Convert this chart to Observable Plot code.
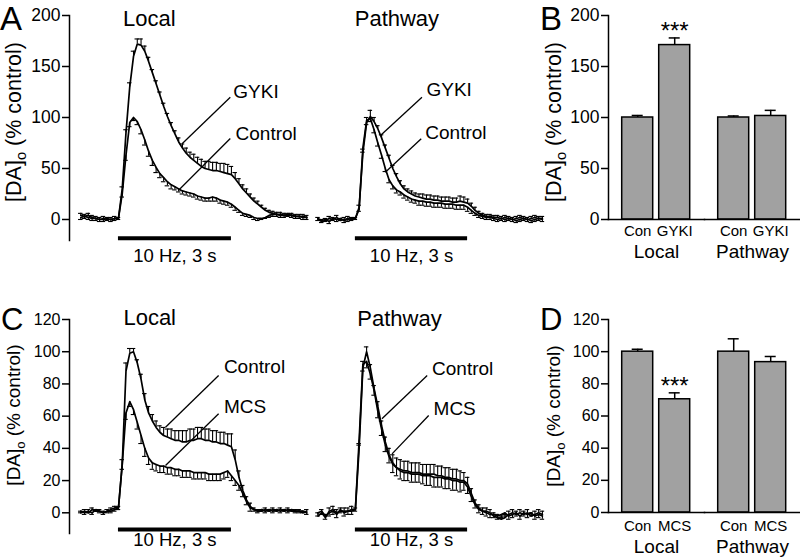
<!DOCTYPE html>
<html><head><meta charset="utf-8">
<script src="https://cdn.jsdelivr.net/npm/d3@7"></script>
<script src="https://cdn.jsdelivr.net/npm/@observablehq/plot@0.6"></script>
<style>
body{margin:0;background:#fff;}
#fig{position:relative;width:800px;height:558px;overflow:hidden;background:#fff;}
.pn{position:absolute;}
#overlay{position:absolute;left:0;top:0;pointer-events:none;}
</style></head><body><div id="fig"></div>
<script>
// sampling grid: -1.0 s .. 5.0 s, 0.1 s steps (stimulus starts at 0 s)
const times = d3.range(-10, 51).map(i => i / 10);

// Panel A, Local
const aLocalGYKI = [4,3,4,2,1,0,1,0,0,1, 1,30,85,130,160,172,171,165,155,144, 133,122,111,101,92,84,76,70,65,61, 58,55,52,50,49,48,48,47,46,45, 44,40,35,30,26,22,18,15,12,9, 7,6,5,5,4,4,4,3,3,3,2];
const aLocalGYKIErr = [2,2,2,2,2,2,2,2,2,2, 1,2,3,4,5,5,6,5,4,3, 3,3,3,3,3,3,4,4,5,5, 6,6,7,7,8,8,8,8,9,9, 8,6,5,4,4,3,3,3,2,2, 2,2,2,2,2,2,2,2,2,2,2];
const aLocalCon = [2,3,2,1,1,0,0,1,0,1, 1,25,63,95,100,96,88,78,67,58, 51,45,41,37,34,32,30,28,27,26, 25,23,22,21,21,22,21,19,18,17, 15,12,9,6,5,4,2,1,1,2, 4,5,5,4,4,5,4,3,3,2,2];
const aLocalConErr = [2,2,2,2,2,2,2,2,2,2, 1,3,5,4,3,3,4,5,5,5, 5,4,4,4,4,3,3,3,3,3, 3,3,3,3,3,4,3,3,3,3, 3,3,2,2,2,2,2,2,1,1, 2,2,2,2,2,2,2,2,2,2,2];
// Panel A, Pathway
const aPathGYKI = [0,-2,-1,1,0,2,-1,0,1,0, 1,12,65,95,101,96,89,80,70,60, 50,42,35,30,27,25,23,22,21,20, 20,19,19,18,18,18,17,17,18,17, 16,13,9,6,4,3,3,2,2,1, 2,1,0,1,2,1,0,1,2,1,1];
const aPathGYKIErr = [2,2,2,2,2,2,2,2,2,2, 1,2,4,5,6,4,3,3,3,3, 3,3,3,3,3,3,3,3,4,4, 4,4,4,4,4,4,4,4,5,5, 4,3,3,2,2,2,2,2,2,2, 2,2,2,2,2,2,2,2,2,2,2];
const aPathCon = [1,-1,0,-2,1,0,1,-1,0,1, 1,10,70,97,99,88,75,63,50,39, 33,29,27,24,22,20,19,18,18,17, 17,16,16,16,15,15,15,14,14,14, 12,9,6,4,3,2,2,1,0,1, 0,1,0,-1,0,1,0,-1,0,1,0];
const aPathConErr = [2,2,2,2,2,2,2,2,2,2, 1,2,4,4,3,3,3,3,3,3, 3,3,3,3,3,3,3,4,4,4, 4,4,4,4,4,4,4,4,4,4, 4,3,2,2,2,2,2,2,2,2, 2,2,2,2,2,2,2,2,2,2,2];
// Panel C, Local
const cLocalCon = [0,1,0,2,1,1,0,1,2,3, 3,30,88,99,100,93,83,70,62,57, 53,50,48,47,46,45,45,44,44,45, 45,46,46,45,45,44,44,43,43,42, 41,33,22,14,8,4,2,1,1,2, 1,2,1,2,1,2,1,1,1,0,1];
const cLocalConErr = [1,1,2,1,1,1,1,1,1,1, 1,3,5,3,2,2,3,4,4,4, 4,4,5,5,6,6,6,7,7,7, 7,7,7,7,7,7,7,7,7,7, 8,6,4,3,2,2,1,1,1,1, 1,1,1,1,1,1,1,1,1,1,1];
const cLocalMCS = [1,0,1,0,2,1,0,1,1,2, 3,30,62,69,64,56,48,40,34,31, 30,29,29,28,28,27,27,26,26,26, 25,25,25,25,24,24,24,24,25,26, 23,20,17,12,7,3,2,1,2,1, 2,1,2,1,2,1,2,1,1,1,0];
const cLocalMCSErr = [1,1,1,1,1,1,1,1,1,1, 1,3,4,3,3,4,5,5,4,4, 4,4,4,4,4,4,4,4,4,4, 4,4,4,4,4,4,4,4,4,4, 3,3,3,2,2,2,1,1,1,1, 1,1,1,1,1,1,1,1,1,1,1];
// Panel C, Pathway
const cPathCon = [-2,0,-3,1,2,0,1,1,1,2, 2,40,90,100,90,77,66,54,44,36, 31,28,27,26,26,25,25,25,24,24, 24,24,23,23,22,22,21,21,20,20, 18,12,6,3,1,1,0,-2,-3,-4, -3,-1,0,-1,0,-1,0,-2,-1,0,-1];
const cPathConErr = [2,2,2,2,2,2,2,2,2,2, 1,3,4,3,2,2,3,3,3,4, 5,6,6,6,6,6,6,6,6,6, 6,6,6,6,6,6,6,6,6,5, 4,3,2,2,2,2,2,2,2,2, 2,2,2,2,2,2,2,2,2,2,2];
const cPathMCS = [0,1,-2,0,1,-1,2,0,1,1, 2,45,92,94,86,76,63,52,42,35, 30,28,26,25,25,24,24,24,23,23, 23,22,22,22,21,21,20,20,19,19, 16,10,5,2,1,0,-1,-1,-2,-1, 0,-2,-1,0,-2,0,-1,0,-2,-1,-2];
const cPathMCSErr = [2,2,2,2,2,2,2,2,2,2, 1,3,4,4,3,3,4,4,4,4, 5,5,5,5,5,5,5,5,5,6, 6,6,6,6,6,6,6,6,6,5, 4,3,2,2,2,2,2,2,2,2, 2,2,2,2,2,2,2,2,2,2,2];

// Bar panels B and D
const barGroups = ["Local", "Local", "Pathway", "Pathway"];
const bConds = ["Con", "GYKI", "Con", "GYKI"];
const bValues = [100, 171, 100, 101.5];
const bErrors = [2, 7, 1.5, 5.5];
const bSig = ["", "***", "", ""];
const dConds = ["Con", "MCS", "Con", "MCS"];
const dValues = [100, 70.4, 100, 93.5];
const dErrors = [1.5, 4, 8, 3.5];
const dSig = ["", "***", "", ""];

// tick labels
const row1Ticks = [0, 50, 100, 150, 200];
const row2Ticks = [0, 20, 40, 60, 80, 100, 120];

// stimulus and annotations (data units: s, % control)
const stimulus = [{start: 0, end: 3, label: "10 Hz, 3 s"}];
const notesALocal = [
  {label: "GYKI", tx: 3.05, ty: 125.5, x1: 2.97, y1: 119.9, x2: 1.69, y2: 74.2},
  {label: "Control", tx: 3.11, ty: 84.3, x1: 2.97, y1: 79.4, x2: 1.59, y2: 28.4}
];
const notesAPath = [
  {label: "GYKI", tx: 1.90, ty: 127.2, x1: 1.78, y1: 119.9, x2: 0.67, y2: 82.4},
  {label: "Control", tx: 1.87, ty: 84.6, x1: 1.76, y1: 79.1, x2: 0.80, y2: 46.4}
];
const notesCLocal = [
  {label: "Control", tx: 2.80, ty: 90.4, x1: 2.66, y1: 85.2, x2: 1.25, y2: 53.1},
  {label: "MCS", tx: 2.80, ty: 65.6, x1: 2.66, y1: 61.5, x2: 1.25, y2: 29.4}
];
const notesCPath = [
  {label: "Control", tx: 2.05, ty: 89.4, x1: 1.92, y1: 85.2, x2: 0.71, y2: 58.4},
  {label: "MCS", tx: 2.09, ty: 64.6, x1: 1.96, y1: 60.4, x2: 0.98, y2: 36.6}
];

const FONT = "Liberation Sans, Arial, Helvetica, sans-serif";
const baseStyle = {fontFamily: FONT, background: "transparent", overflow: "visible", color: "#000"};

function tracePlot(cfg) {
  const rows = cfg.series.flatMap(s => s.values.map((v, i) => ({t: times[i], v, e: s.errors[i], dir: s.dir, name: s.name})));
  const tip = d => d.v + d.dir * d.e;
  const marks = [
    Plot.ruleX(rows, {x: "t", y1: "v", y2: tip, stroke: "#000", strokeWidth: 1.1}),
    Plot.ruleY(rows, {x1: d => d.t - 0.06, x2: d => d.t + 0.06, y: tip, stroke: "#000", strokeWidth: 1.1}),
    Plot.line(rows, {x: "t", y: "v", z: "name", stroke: "#000", strokeWidth: 1.7}),
    Plot.ruleY(stimulus, {x1: "start", x2: "end", y: () => cfg.stimY, stroke: "#000", strokeWidth: 4}),
    Plot.text(stimulus, {x: d => (d.start + d.end) / 2, y: () => cfg.stimY, dy: cfg.stimDy, text: "label", fontSize: 18.5}),
    Plot.text([cfg.title], {x: "t", y: "v", text: "text", fontSize: 22}),
    Plot.link(cfg.notes, {x1: "x1", y1: "y1", x2: "x2", y2: "y2", stroke: "#000", strokeWidth: 1.3}),
    Plot.text(cfg.notes, {x: "tx", y: "ty", text: "label", textAnchor: "start", fontSize: 19})
  ];
  if (cfg.showAxis) {
    marks.push(Plot.axisY(cfg.ticks, {tickSize: 7, tickPadding: 2, fontSize: cfg.tickFont, label: null, strokeWidth: 1.5}));
    marks.push(Plot.frame({anchor: "left", strokeWidth: 1.5}));
  }
  return Plot.plot({
    width: cfg.width, height: cfg.height,
    marginLeft: cfg.marginLeft, marginRight: 0, marginTop: cfg.marginTop, marginBottom: cfg.marginBottom,
    x: {domain: cfg.xDomain, axis: null, label: null},
    y: {domain: cfg.yDomain, label: null, axis: cfg.showAxis ? undefined : null},
    style: baseStyle,
    marks
  });
}

function barPlot(cfg) {
  const rows = cfg.values.map((v, i) => ({group: barGroups[i], cond: cfg.conds[i], v, e: cfg.errors[i], sig: cfg.sig[i]}));
  const top = d => d.v + d.e;
  return Plot.plot({
    width: 280, height: cfg.height,
    marginLeft: 87.3, marginRight: 0, marginTop: cfg.marginTop, marginBottom: 45,
    fx: {domain: ["Local", "Pathway"], padding: 0, axis: null, label: null},
    x: {domain: cfg.conds.slice(0, 2), paddingInner: 0.156, paddingOuter: 0.349, axis: null, label: null},
    y: {domain: cfg.yDomain, label: null},
    style: baseStyle,
    marks: [
      Plot.barY(rows, {fx: "group", x: "cond", y: "v", fill: "#a1a1a1", stroke: "#000", strokeWidth: 1.5}),
      Plot.ruleX(rows, {fx: "group", x: "cond", y1: "v", y2: top, stroke: "#000", strokeWidth: 1.5}),
      Plot.tickY(rows, {fx: "group", x: "cond", y: top, insetLeft: 10, insetRight: 10, stroke: "#000", strokeWidth: 1.5}),
      Plot.text(rows, {fx: "group", x: "cond", y: top, text: "sig", dy: -7, fontSize: 24}),
      Plot.axisY(cfg.ticks, {tickSize: 7, tickPadding: 2, fontSize: cfg.tickFont, label: null, strokeWidth: 1.5}),
      Plot.axisX({tickSize: 0, tickPadding: cfg.condPad, fontSize: 15, label: null}),
      Plot.axisFx({anchor: "bottom", tickSize: 0, tickPadding: cfg.groupPad, fontSize: 19, label: null}),
      Plot.frame({anchor: "left", facetAnchor: "left", strokeWidth: 1.5}),
      Plot.frame({anchor: "bottom", strokeWidth: 1.5})
    ]
  });
}

const fig = document.getElementById("fig");
function place(node, left, top) {
  const d = document.createElement("div");
  d.className = "pn"; d.style.left = left + "px"; d.style.top = top + "px";
  d.appendChild(node); fig.appendChild(d);
}

const row1 = {height: 265, marginTop: 15, marginBottom: 25, yDomain: [-20.6, 200], ticks: row1Ticks, tickFont: 17.5, stimY: -18.3, stimDy: 18};
const row2 = {height: 258, marginTop: 19, marginBottom: 25, yDomain: [-12.85, 120], ticks: row2Ticks, tickFont: 16, stimY: -10.35, stimDy: 11};

place(tracePlot({...row1, width: 310, marginLeft: 69, xDomain: [-1.3, 5.1], showAxis: true,
  title: {text: "Local", t: 0.82, v: 197}, notes: notesALocal,
  series: [{name: "GYKI", values: aLocalGYKI, errors: aLocalGYKIErr, dir: 1}, {name: "Control", values: aLocalCon, errors: aLocalConErr, dir: -1}]}), 0, 0);
place(tracePlot({...row1, width: 245, marginLeft: 0, xDomain: [-1.2, 5.35], showAxis: false,
  title: {text: "Pathway", t: 1.11, v: 197}, notes: notesAPath,
  series: [{name: "GYKI", values: aPathGYKI, errors: aPathGYKIErr, dir: 1}, {name: "Control", values: aPathCon, errors: aPathConErr, dir: -1}]}), 310, 0);
place(tracePlot({...row2, width: 310, marginLeft: 69, xDomain: [-1.3, 5.1], showAxis: true,
  title: {text: "Local", t: 0.83, v: 120.8}, notes: notesCLocal,
  series: [{name: "Control", values: cLocalCon, errors: cLocalConErr, dir: 1}, {name: "MCS", values: cLocalMCS, errors: cLocalMCSErr, dir: -1}]}), 0, 300);
place(tracePlot({...row2, width: 245, marginLeft: 0, xDomain: [-1.2, 5.35], showAxis: false,
  title: {text: "Pathway", t: 1.18, v: 120.4}, notes: notesCPath,
  series: [{name: "Control", values: cPathCon, errors: cPathConErr, dir: 1}, {name: "MCS", values: cPathMCS, errors: cPathMCSErr, dir: -1}]}), 310, 300);

place(barPlot({height: 264, marginTop: 15, yDomain: [0, 200], ticks: row1Ticks, tickFont: 17.5,
  values: bValues, errors: bErrors, conds: bConds, sig: bSig, condPad: 6, groupPad: 25}), 520, 0);
place(barPlot({height: 257, marginTop: 19, yDomain: [0, 120], ticks: row2Ticks, tickFont: 16,
  values: dValues, errors: dErrors, conds: dConds, sig: dSig, condPad: 8, groupPad: 27}), 520, 300);

// panel letters and y-axis titles
const ns = "http://www.w3.org/2000/svg";
const ov = document.createElementNS(ns, "svg");
ov.setAttribute("id", "overlay"); ov.setAttribute("width", 800); ov.setAttribute("height", 558);
ov.setAttribute("font-family", FONT);
const letters = [["A", 0, 30, 33], ["B", 540, 30, 33], ["C", 1, 330, 31], ["D", 540, 330, 31]];
for (const [s, x, y, f] of letters) {
  const t = document.createElementNS(ns, "text");
  t.setAttribute("x", x); t.setAttribute("y", y); t.setAttribute("font-size", f); t.textContent = s;
  ov.appendChild(t);
}
const ytitles = [[21, 122, 21.5], [560.7, 122, 21.5], [20, 415, 19], [560, 416, 19]];
for (const [x, y, f] of ytitles) {
  const t = document.createElementNS(ns, "text");
  t.setAttribute("transform", `translate(${x},${y}) rotate(-90)`);
  t.setAttribute("text-anchor", "middle"); t.setAttribute("font-size", f);
  const a = document.createElementNS(ns, "tspan"); a.textContent = "[DA]";
  const b = document.createElementNS(ns, "tspan"); b.textContent = "o"; b.setAttribute("font-size", f * 0.68); b.setAttribute("dy", f * 0.25);
  const c = document.createElementNS(ns, "tspan"); c.textContent = " (% control)"; c.setAttribute("dy", -f * 0.25);
  t.append(a, b, c); ov.appendChild(t);
}
fig.appendChild(ov);
</script></body></html>
